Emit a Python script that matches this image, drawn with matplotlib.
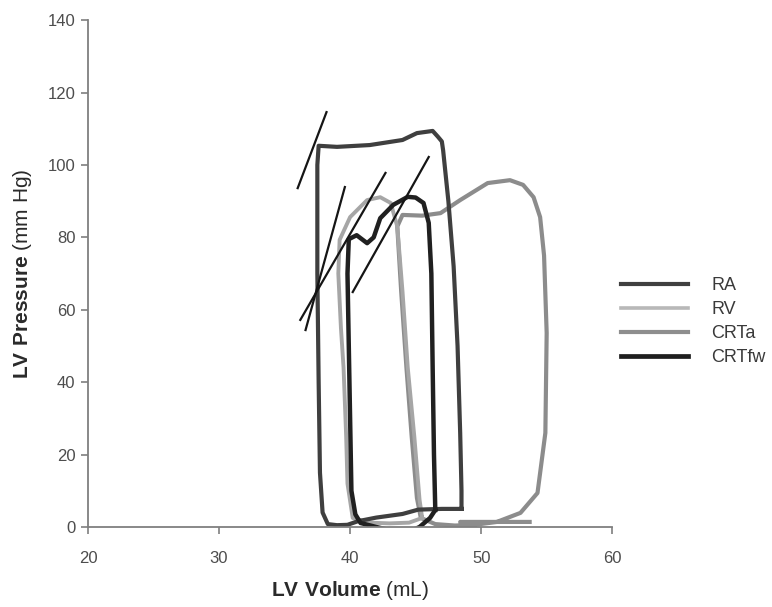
import matplotlib
matplotlib.use("Agg")
import matplotlib.pyplot as plt

plt.rcParams['font.family'] = ['Liberation Sans', 'DejaVu Sans']
plt.rcParams['mathtext.fontset'] = 'custom'
plt.rcParams['mathtext.rm'] = 'Liberation Sans'
plt.rcParams['mathtext.bf'] = 'Liberation Sans:bold'

# ---- data (volume mL, pressure mm Hg) ----
ra_vol = [48.5, 48.5, 48.4, 48.2, 47.9, 47.5, 47.1, 47.0, 46.7, 46.3, 45.1, 44.0, 41.5, 39.0, 37.6,
          37.5, 37.5, 37.6, 37.7, 37.9, 38.3, 39.0, 39.8, 40.6, 42.0, 44.0, 45.2, 47.0, 48.5]
ra_p = [5.0, 10, 26, 50, 72, 90, 104, 106.5, 107.8, 109.4, 108.8, 106.9, 105.5, 105.0, 105.3,
        100, 70, 40, 15, 4, 0.8, 0.5, 0.6, 1.6, 2.6, 3.6, 4.8, 5.0, 5.0]

crtfw_vol = [46.5, 46.4, 46.3, 46.2, 46.0, 45.6, 45.0, 44.4, 43.3, 42.3, 41.8, 41.3, 40.5, 39.9,
             39.8, 39.9, 40.0, 40.1, 40.4, 40.8, 42.0, 43.2, 44.0, 44.8, 45.3, 46.1, 46.5]
crtfw_p = [4.7, 20, 44, 70, 84, 89.5, 91.0, 91.2, 89.0, 85.3, 80.0, 78.4, 80.6, 79.5,
           70, 50, 30, 10, 3.5, 1.1, 0.0, -1.0, -1.4, -0.8, 0.0, 2.5, 4.7]

rv_vol = [45.5, 45.3, 44.9, 44.4, 44.0, 43.6, 43.1, 42.3, 41.3, 40.0, 39.2, 39.1, 39.3, 39.5,
          39.7, 39.8, 40.2, 41.5, 43.0, 44.5, 45.5]
rv_p = [2.5, 7.5, 25, 44, 65, 83, 89.5, 91.1, 90.3, 85.6, 79.3, 70, 55, 44,
        25, 12, 2.5, 1.2, 1.0, 1.2, 2.5]

crta_vol = [53.7, 50.5, 48.4, 49.5, 51.2, 53.0, 54.3, 54.9, 55.0, 54.8, 54.5, 54.0, 53.2, 52.2,
            50.5, 48.4, 46.9, 45.5, 44.0, 43.6, 43.9, 44.3, 44.7, 45.1, 45.4, 46.5, 48.0, 49.5]
crta_p = [1.4, 1.4, 1.4, 0.6, 1.4, 3.9, 9.4, 26, 53.6, 75, 85.6, 91.1, 94.5, 95.8,
          95.0, 90.3, 86.7, 86.0, 86.2, 83, 65, 44, 25, 8, 2.5, 0.8, 0.4, 0.6]

# end-systolic tangent lines: (v0, p0, v1, p1)
esp_lines = [
    (36.0, 93.6, 38.2, 114.6),
    (36.6, 54.4, 39.6, 93.9),
    (36.2, 57.2, 42.7, 97.8),
    (40.2, 64.9, 46.0, 102.2),
]

x_ticks = [20, 30, 40, 50, 60]
y_ticks = [0, 20, 40, 60, 80, 100, 120, 140]

AXC = "#7f7f7f"
TXT = "#4d4d4d"

fig = plt.figure(figsize=(7.72, 6.07), dpi=100)
ax = fig.add_axes([0.114, 0.1318, 0.679, 0.835])

ax.plot(crta_vol, crta_p, color="#8c8c8c", lw=3.0, solid_joinstyle='round')
ax.plot(rv_vol, rv_p, color="#a6a6a6", lw=2.8, solid_joinstyle='round')
ax.plot(ra_vol, ra_p, color="#3f3f3f", lw=3.0, solid_joinstyle='round')
ax.plot(crtfw_vol, crtfw_p, color="#202020", lw=3.2, solid_joinstyle='round')

for v0, p0, v1, p1 in esp_lines:
    ax.plot([v0, v1], [p0, p1], color="#151515", lw=1.6)

# legend handles
ax.plot([], [], color="#404040", lw=3.0, label="RA")
ax.plot([], [], color="#b8b8b8", lw=2.6, label="RV")
ax.plot([], [], color="#8e8e8e", lw=3.0, label="CRTa")
ax.plot([], [], color="#1e1e1e", lw=3.4, label="CRTfw")
handles, labels = ax.get_legend_handles_labels()
ax.legend(handles[-4:], labels[-4:], loc="center left", bbox_to_anchor=(1.0, 0.405),
          frameon=False, fontsize=13, handlelength=3.7, handletextpad=1.3,
          labelspacing=0.38, borderaxespad=0.3, borderpad=0.2, labelcolor="#3a3a3a")

ax.set_xlim(20, 60)
ax.set_ylim(0, 140)
ax.set_xticks(x_ticks)
ax.set_yticks(y_ticks)

ax.spines["top"].set_visible(False)
ax.spines["right"].set_visible(False)
ax.spines["left"].set_edgecolor(AXC)
ax.spines["bottom"].set_edgecolor(AXC)
ax.spines["left"].set_linewidth(1.3)
ax.spines["bottom"].set_linewidth(1.3)
ax.tick_params(axis='both', which='major', labelsize=12, labelcolor=TXT,
               colors=AXC, width=1.2, length=5, direction='out')
ax.tick_params(axis='x', pad=12)
ax.tick_params(axis='y', pad=4)

ax.set_xlabel(r"$\mathbf{LV\ Volume}$ (mL)", fontsize=15, color="#2a2a2a", labelpad=10)
ax.set_ylabel(r"$\mathbf{LV\ Pressure}$ (mm Hg)", fontsize=15, color="#2a2a2a", labelpad=10)

plt.savefig("out.png", dpi=100, facecolor="white")
